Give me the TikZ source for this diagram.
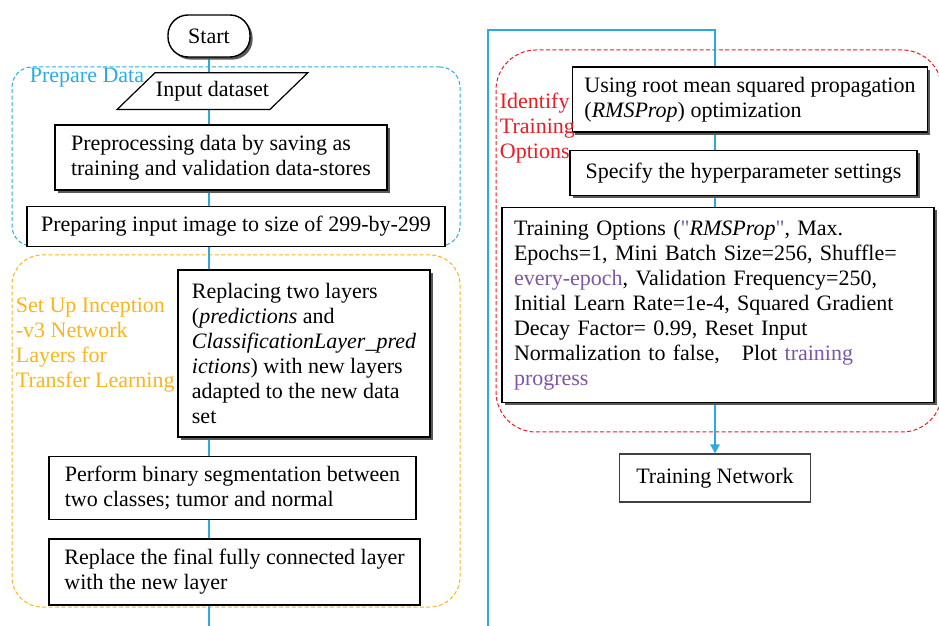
\documentclass[tikz,border=0pt]{standalone}
\usepackage{fontspec}
\setmainfont{Liberation Serif}
\newfontfamily\quotefont{Liberation Serif}
\usepackage{xcolor}
\usepackage{tikz}
\usetikzlibrary{arrows.meta, positioning, fit, backgrounds, shadows}

\definecolor{flowblue}{HTML}{29ABE2}
\definecolor{setupgold}{HTML}{F9B51C}
\definecolor{trainred}{HTML}{ED1C24}
\definecolor{optpurple}{HTML}{7E57A4}

\newcommand{\optquote}{\textcolor{optpurple}{\quotefont"}}

\begin{document}
\begin{tikzpicture}[
    font=\fontsize{11pt}{12.5pt}\selectfont,
    >=Triangle,
    shadowed/.style={drop shadow={shadow xshift=1.3pt, shadow yshift=-1.3pt, fill=black!65, opacity=1}},
    terminal/.style={draw=black, line width=0.7pt, fill=white, rounded corners=10pt, minimum width=41pt, minimum height=21pt, shadowed},
    dataio/.style={inner sep=0pt, minimum width=76pt, minimum height=18pt},
    dataedge/.style={draw=black, line width=0.6pt, fill=white},
    stepbox/.style={draw=black, line width=0.7pt, fill=white, align=left, inner xsep=6pt, inner ysep=3pt},
    groupbox/.style={draw=#1, dashed, dash pattern=on 2pt off 1.2pt, line width=0.5pt, inner sep=0pt},
    grouplabel/.style={inner sep=0pt, align=left, anchor=west},
    flow/.style={draw=flowblue, line width=1pt}
]
\useasboundingbox (0,0) rectangle (469.5pt,-313pt);

% Left Column
\node[terminal] (start) at (104.5pt,-18pt) {Start};
\node[dataio, below=7.5pt of start, xshift=1.75pt] (input) {Input dataset};
\node[stepbox, shadowed, below=7.5pt of input, xshift=4.25pt, minimum width=166pt, minimum height=32.5pt] (preproc) {Preprocessing data by saving as\\training and validation data-stores};
\node[stepbox, below=7.5pt of preproc, xshift=7.5pt, minimum width=209pt, minimum height=20pt, align=center] (resize) {Preparing input image to size of 299-by-299};
\node[stepbox, shadowed, below=11pt of resize, xshift=34pt, minimum width=126pt, minimum height=83.5pt] (replacing) {Replacing two layers\\(\textit{predictions} and\\\textit{ClassificationLayer\_pred}\\\textit{ictions}) with new layers\\adapted to the new data\\set};
\node[stepbox, below=9pt of replacing, xshift=-35.75pt, minimum width=183.5pt, minimum height=31.5pt] (segment) {Perform binary segmentation between\\two classes; tumor and normal};
\node[stepbox, below=9pt of segment, xshift=1pt, minimum width=185.5pt, minimum height=33pt] (fclayer) {Replace the final fully connected layer\\with the new layer};

% Right Column
\node[stepbox, shadowed, minimum width=175pt, minimum height=32.5pt] (rmsprop) at (375pt,-49.75pt) {Using root mean squared propagation\\(\textit{RMSProp}) optimization};
\node[stepbox, shadowed, below=8.5pt of rmsprop, xshift=-3.25pt, minimum width=173.5pt, minimum height=22.5pt] (hyper) {Specify the hyperparameter settings};
\node[stepbox, shadowed, below=5.5pt of hyper, xshift=-12.75pt, text width=204pt, minimum height=97.5pt] (options) {Training Options (\optquote\textit{RMSProp}\optquote, Max.\\Epochs=1, Mini Batch Size=256, Shuffle=\\\textcolor{optpurple}{every-epoch}, Validation Frequency=250,\\Initial Learn Rate=1e-4, Squared Gradient\\Decay Factor= 0.99, Reset Input\\Normalization to false,\ \ \ Plot \textcolor{optpurple}{training}\\\textcolor{optpurple}{progress}};
\node[stepbox, draw=black!75, below=25pt of options, xshift=-1.5pt, minimum width=95.5pt, minimum height=24pt] (trainnet) {Training Network};

% Corners of the groups and loose ends of the flow line
\coordinate (prepA) at (6pt,-33.5pt);
\coordinate (prepB) at (230pt,-123pt);
\coordinate (setupA) at (6pt,-127.5pt);
\coordinate (setupB) at (230pt,-303.5pt);
\coordinate (trainA) at (248pt,-25pt);
\coordinate (trainB) at (471pt,-216pt);
\coordinate (leftend) at (104.5pt,-313pt);
\coordinate (rightend) at (244pt,-313pt);
\coordinate (rightturn) at (244pt,-15pt);

% Group Boxes
\begin{scope}[on background layer]
    \node[groupbox=flowblue, rounded corners=10pt, fit=(prepA) (prepB)] (prepbox) {};
    \node[groupbox=setupgold, rounded corners=15pt, fit=(setupA) (setupB)] (setupbox) {};
    \node[groupbox=trainred, rounded corners=20pt, fit=(trainA) (trainB)] (trainbox) {};

    % Connections
    \draw[flow] (start) -- (leftend);
    \draw[flow, -{Triangle[width=4.5pt, length=4.5pt]}] (rightend) -- (rightturn) -| (trainnet.north);

    % Input parallelogram
    \path[dataedge] ([xshift=-9.5pt]input.south west) -- ([xshift=-9.5pt]input.south east) -- ([xshift=9.5pt]input.north east) -- ([xshift=9.5pt]input.north west) -- cycle;
\end{scope}

% Group Labels
\node[grouplabel, text=flowblue] (preplabel) at ([xshift=9pt, yshift=-5.5pt]prepbox.north west) {Prepare Data};
\node[grouplabel, text=setupgold] (setuplabel) at ([xshift=2pt, yshift=-45.5pt]setupbox.north west) {Set Up Inception\\-v3 Network\\Layers for\\Transfer Learning};
\node[grouplabel, text=trainred] (trainlabel) at ([xshift=2pt, yshift=-39.5pt]trainbox.north west) {Identify\\Training\\Options};

\end{tikzpicture}
\end{document}
